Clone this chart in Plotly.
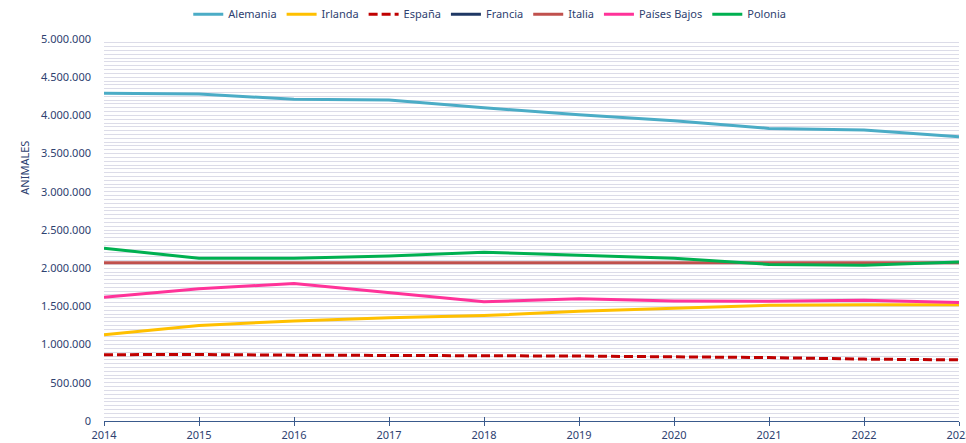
import plotly.graph_objects as go

years = [2014, 2015, 2016, 2017, 2018, 2019, 2020, 2021, 2022, 2023]

alemania = [4290000, 4280000, 4210000, 4200000, 4100000, 4010000, 3930000, 3830000, 3810000, 3720000]
irlanda = [1130000, 1250000, 1310000, 1350000, 1380000, 1435000, 1475000, 1514000, 1520000, 1520000]
espana = [868000, 870000, 862000, 860000, 855000, 850000, 840000, 830000, 810000, 800000]
francia = [None] * 10  # not visible in the chart
italia = [2070000, 2070000, 2070000, 2070000, 2070000, 2070000, 2070000, 2070000, 2070000, 2070000]
paises_bajos = [1620000, 1730000, 1800000, 1680000, 1560000, 1600000, 1570000, 1567000, 1580000, 1550000]
polonia = [2260000, 2130000, 2130000, 2160000, 2210000, 2170000, 2130000, 2050000, 2040000, 2080000]

series = [
    ("Alemania", alemania, "#4bacc6", "solid"),
    ("Irlanda", irlanda, "#ffc000", "solid"),
    ("España", espana, "#c00000", "9px,4px"),
    ("Francia", francia, "#1f3864", "solid"),
    ("Italia", italia, "#c0504d", "solid"),
    ("Países Bajos", paises_bajos, "#ff3399", "solid"),
    ("Polonia", polonia, "#00b050", "solid"),
]

text_color = "#2e4170"
grid_color = "#dcdce8"
axis_color = "#3a5a8c"

fig = go.Figure()
for name, values, color, dash in series:
    fig.add_trace(go.Scatter(x=years, y=values, mode="lines", name=name,
                             line={"color": color, "width": 3, "dash": dash}))

# dummy trace so the overlay axis with inside ticks is drawn
fig.add_trace(go.Scatter(x=years, y=[None] * len(years), xaxis="x2",
                         showlegend=False, hoverinfo="skip"))

fig.update_layout(
    width=966, height=443,
    margin={"l": 104, "r": 7, "t": 39, "b": 22, "autoexpand": False},
    paper_bgcolor="white", plot_bgcolor="white",
    separators=",.",
    font={"family": "Noto Sans", "size": 11, "color": text_color},
    showlegend=True,
    legend={"orientation": "h", "xref": "container", "yref": "container",
            "x": 0.507, "xanchor": "center", "y": 0.968, "yanchor": "middle",
            "font": {"size": 11, "color": text_color}, "itemwidth": 30, "tracegroupgap": 0},
    xaxis={"range": [2014, 2023], "tickmode": "linear", "dtick": 1, "tick0": 2014,
           "showgrid": False, "zeroline": False, "showline": True, "linecolor": axis_color,
           "linewidth": 1, "ticks": "outside", "ticklen": 4, "tickcolor": axis_color,
           "tickfont": {"size": 11}, "automargin": False, "ticklabeloverflow": "allow"},
    xaxis2={"overlaying": "x", "matches": "x", "anchor": "y", "side": "bottom",
            "showticklabels": False, "showgrid": False, "zeroline": False, "showline": False,
            "ticks": "inside", "ticklen": 4, "tickcolor": axis_color, "tickmode": "linear",
            "dtick": 1, "tick0": 2014, "automargin": False},
    yaxis={"range": [0, 5000000], "dtick": 500000, "tickformat": ",d",
           "showgrid": True, "gridcolor": grid_color, "gridwidth": 1,
           "minor": {"dtick": 50000, "showgrid": True, "gridcolor": grid_color, "gridwidth": 1},
           "zeroline": False, "showline": False, "ticks": "", "ticklabelstandoff": 12,
           "tickfont": {"size": 11}, "automargin": False},
    annotations=[{"text": "ANIMALES", "textangle": -90, "xref": "paper", "yref": "paper",
                  "x": -0.104, "y": 0.738, "showarrow": False,
                  "font": {"size": 11, "color": text_color}}],
)

# page body has a default 8px margin; drop it so the figure fills the window
fig.write_html("out.html", config={"displayModeBar": False},
               post_script="document.body.style.margin='0';")
